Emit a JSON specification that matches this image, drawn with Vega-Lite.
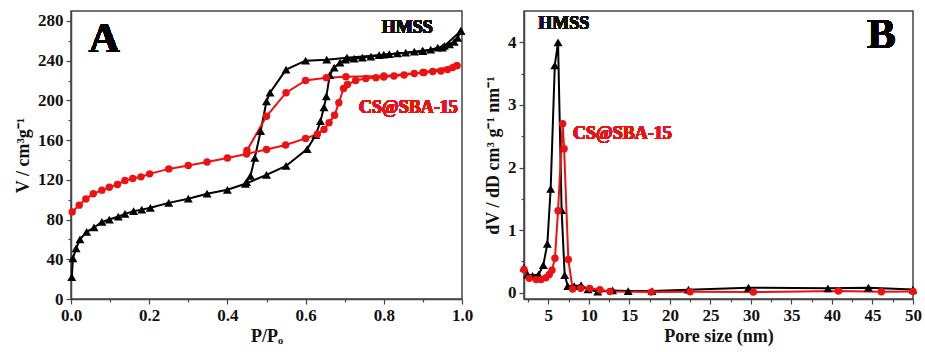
{
  "$schema": "https://vega.github.io/schema/vega-lite/v6.json",
  "background": "white",
  "padding": {"left": 13, "top": 10, "right": 5, "bottom": 5},
  "bounds": "flush",
  "spacing": 62,
  "config": {
    "font": "Liberation Serif",
    "view": {"stroke": "#444", "strokeWidth": 1.5},
    "axis": {
      "labelFont": "Liberation Serif", "labelFontWeight": "bold", "labelFontSize": 17, "labelColor": "#111",
      "titleFont": "Liberation Serif", "titleFontWeight": "bold", "titleFontSize": 18, "titleColor": "#111",
      "domainColor": "#444", "domainWidth": 1.5, "tickColor": "#444", "tickWidth": 1.2, "grid": false,
      "labelOverlap": false, "labelFlush": false
    },
    "text": {"font": "Liberation Serif", "fontWeight": "bold"}
  },
  "datasets": {
    "iso": [
      {"sample": "HMSS", "branch": "ads", "p": 0.002, "v": 22},
      {"sample": "HMSS", "branch": "ads", "p": 0.005, "v": 41},
      {"sample": "HMSS", "branch": "ads", "p": 0.013, "v": 51},
      {"sample": "HMSS", "branch": "ads", "p": 0.023, "v": 60},
      {"sample": "HMSS", "branch": "ads", "p": 0.04, "v": 67.6},
      {"sample": "HMSS", "branch": "ads", "p": 0.059, "v": 72},
      {"sample": "HMSS", "branch": "ads", "p": 0.079, "v": 77.6},
      {"sample": "HMSS", "branch": "ads", "p": 0.098, "v": 80},
      {"sample": "HMSS", "branch": "ads", "p": 0.121, "v": 83},
      {"sample": "HMSS", "branch": "ads", "p": 0.138, "v": 85.7},
      {"sample": "HMSS", "branch": "ads", "p": 0.16, "v": 88.4},
      {"sample": "HMSS", "branch": "ads", "p": 0.181, "v": 90},
      {"sample": "HMSS", "branch": "ads", "p": 0.203, "v": 91.8},
      {"sample": "HMSS", "branch": "ads", "p": 0.25, "v": 96.8},
      {"sample": "HMSS", "branch": "ads", "p": 0.3, "v": 101},
      {"sample": "HMSS", "branch": "ads", "p": 0.348, "v": 106},
      {"sample": "HMSS", "branch": "ads", "p": 0.4, "v": 110},
      {"sample": "HMSS", "branch": "ads", "p": 0.446, "v": 116},
      {"sample": "HMSS", "branch": "ads", "p": 0.5, "v": 125},
      {"sample": "HMSS", "branch": "ads", "p": 0.55, "v": 134},
      {"sample": "HMSS", "branch": "ads", "p": 0.604, "v": 151},
      {"sample": "HMSS", "branch": "ads", "p": 0.626, "v": 165},
      {"sample": "HMSS", "branch": "ads", "p": 0.638, "v": 179},
      {"sample": "HMSS", "branch": "ads", "p": 0.647, "v": 193},
      {"sample": "HMSS", "branch": "ads", "p": 0.653, "v": 204},
      {"sample": "HMSS", "branch": "ads", "p": 0.662, "v": 225.5},
      {"sample": "HMSS", "branch": "ads", "p": 0.673, "v": 233},
      {"sample": "HMSS", "branch": "ads", "p": 0.688, "v": 238},
      {"sample": "HMSS", "branch": "ads", "p": 0.702, "v": 241},
      {"sample": "HMSS", "branch": "ads", "p": 0.724, "v": 242},
      {"sample": "HMSS", "branch": "ads", "p": 0.745, "v": 243},
      {"sample": "HMSS", "branch": "ads", "p": 0.767, "v": 244},
      {"sample": "HMSS", "branch": "ads", "p": 0.788, "v": 245.5},
      {"sample": "HMSS", "branch": "ads", "p": 0.814, "v": 246.5},
      {"sample": "HMSS", "branch": "ads", "p": 0.835, "v": 247.4},
      {"sample": "HMSS", "branch": "ads", "p": 0.856, "v": 248},
      {"sample": "HMSS", "branch": "ads", "p": 0.878, "v": 249},
      {"sample": "HMSS", "branch": "ads", "p": 0.899, "v": 250},
      {"sample": "HMSS", "branch": "ads", "p": 0.92, "v": 251},
      {"sample": "HMSS", "branch": "ads", "p": 0.938, "v": 253},
      {"sample": "HMSS", "branch": "ads", "p": 0.955, "v": 255},
      {"sample": "HMSS", "branch": "ads", "p": 0.968, "v": 256.5},
      {"sample": "HMSS", "branch": "ads", "p": 0.98, "v": 259},
      {"sample": "HMSS", "branch": "ads", "p": 0.989, "v": 263},
      {"sample": "HMSS", "branch": "ads", "p": 0.997, "v": 270},
      {"sample": "HMSS", "branch": "des", "p": 0.997, "v": 270},
      {"sample": "HMSS", "branch": "des", "p": 0.95, "v": 253},
      {"sample": "HMSS", "branch": "des", "p": 0.9, "v": 249.5},
      {"sample": "HMSS", "branch": "des", "p": 0.8, "v": 246},
      {"sample": "HMSS", "branch": "des", "p": 0.706, "v": 243},
      {"sample": "HMSS", "branch": "des", "p": 0.654, "v": 241},
      {"sample": "HMSS", "branch": "des", "p": 0.6, "v": 240},
      {"sample": "HMSS", "branch": "des", "p": 0.55, "v": 231},
      {"sample": "HMSS", "branch": "des", "p": 0.509, "v": 207.7},
      {"sample": "HMSS", "branch": "des", "p": 0.5, "v": 199},
      {"sample": "HMSS", "branch": "des", "p": 0.485, "v": 169},
      {"sample": "HMSS", "branch": "des", "p": 0.47, "v": 142},
      {"sample": "HMSS", "branch": "des", "p": 0.459, "v": 124},
      {"sample": "HMSS", "branch": "des", "p": 0.449, "v": 117.6},
      {"sample": "CS@SBA-15", "branch": "ads", "p": 0.003, "v": 87.7},
      {"sample": "CS@SBA-15", "branch": "ads", "p": 0.021, "v": 94.5},
      {"sample": "CS@SBA-15", "branch": "ads", "p": 0.038, "v": 100.8},
      {"sample": "CS@SBA-15", "branch": "ads", "p": 0.057, "v": 105.9},
      {"sample": "CS@SBA-15", "branch": "ads", "p": 0.079, "v": 109.6},
      {"sample": "CS@SBA-15", "branch": "ads", "p": 0.098, "v": 112.6},
      {"sample": "CS@SBA-15", "branch": "ads", "p": 0.119, "v": 115.3},
      {"sample": "CS@SBA-15", "branch": "ads", "p": 0.138, "v": 119.3},
      {"sample": "CS@SBA-15", "branch": "ads", "p": 0.158, "v": 121.3},
      {"sample": "CS@SBA-15", "branch": "ads", "p": 0.179, "v": 123},
      {"sample": "CS@SBA-15", "branch": "ads", "p": 0.201, "v": 126},
      {"sample": "CS@SBA-15", "branch": "ads", "p": 0.25, "v": 131},
      {"sample": "CS@SBA-15", "branch": "ads", "p": 0.3, "v": 134.5},
      {"sample": "CS@SBA-15", "branch": "ads", "p": 0.348, "v": 138},
      {"sample": "CS@SBA-15", "branch": "ads", "p": 0.4, "v": 142},
      {"sample": "CS@SBA-15", "branch": "ads", "p": 0.449, "v": 146},
      {"sample": "CS@SBA-15", "branch": "ads", "p": 0.5, "v": 150.6},
      {"sample": "CS@SBA-15", "branch": "ads", "p": 0.549, "v": 155},
      {"sample": "CS@SBA-15", "branch": "ads", "p": 0.6, "v": 161.7},
      {"sample": "CS@SBA-15", "branch": "ads", "p": 0.63, "v": 166},
      {"sample": "CS@SBA-15", "branch": "ads", "p": 0.647, "v": 170.8},
      {"sample": "CS@SBA-15", "branch": "ads", "p": 0.66, "v": 177.5},
      {"sample": "CS@SBA-15", "branch": "ads", "p": 0.674, "v": 185},
      {"sample": "CS@SBA-15", "branch": "ads", "p": 0.685, "v": 197.6},
      {"sample": "CS@SBA-15", "branch": "ads", "p": 0.697, "v": 212},
      {"sample": "CS@SBA-15", "branch": "ads", "p": 0.707, "v": 216},
      {"sample": "CS@SBA-15", "branch": "ads", "p": 0.728, "v": 220},
      {"sample": "CS@SBA-15", "branch": "ads", "p": 0.754, "v": 222},
      {"sample": "CS@SBA-15", "branch": "ads", "p": 0.78, "v": 222.9},
      {"sample": "CS@SBA-15", "branch": "ads", "p": 0.8, "v": 223.5},
      {"sample": "CS@SBA-15", "branch": "ads", "p": 0.826, "v": 224.5},
      {"sample": "CS@SBA-15", "branch": "ads", "p": 0.852, "v": 225.5},
      {"sample": "CS@SBA-15", "branch": "ads", "p": 0.878, "v": 227},
      {"sample": "CS@SBA-15", "branch": "ads", "p": 0.903, "v": 228},
      {"sample": "CS@SBA-15", "branch": "ads", "p": 0.925, "v": 229},
      {"sample": "CS@SBA-15", "branch": "ads", "p": 0.946, "v": 229.6},
      {"sample": "CS@SBA-15", "branch": "ads", "p": 0.963, "v": 231},
      {"sample": "CS@SBA-15", "branch": "ads", "p": 0.976, "v": 233},
      {"sample": "CS@SBA-15", "branch": "ads", "p": 0.987, "v": 235},
      {"sample": "CS@SBA-15", "branch": "des", "p": 0.987, "v": 235},
      {"sample": "CS@SBA-15", "branch": "des", "p": 0.9, "v": 228},
      {"sample": "CS@SBA-15", "branch": "des", "p": 0.8, "v": 224.5},
      {"sample": "CS@SBA-15", "branch": "des", "p": 0.703, "v": 223.9},
      {"sample": "CS@SBA-15", "branch": "des", "p": 0.653, "v": 222.9},
      {"sample": "CS@SBA-15", "branch": "des", "p": 0.6, "v": 220},
      {"sample": "CS@SBA-15", "branch": "des", "p": 0.55, "v": 207.7},
      {"sample": "CS@SBA-15", "branch": "des", "p": 0.5, "v": 184},
      {"sample": "CS@SBA-15", "branch": "des", "p": 0.45, "v": 149.6}
    ],
    "psd": [
      {"sample": "HMSS", "d": 2.0, "f": 0.40},
      {"sample": "HMSS", "d": 2.44, "f": 0.29},
      {"sample": "HMSS", "d": 3.06, "f": 0.27},
      {"sample": "HMSS", "d": 3.8, "f": 0.29},
      {"sample": "HMSS", "d": 4.38, "f": 0.44},
      {"sample": "HMSS", "d": 4.88, "f": 0.78},
      {"sample": "HMSS", "d": 5.29, "f": 1.66},
      {"sample": "HMSS", "d": 5.8, "f": 3.63},
      {"sample": "HMSS", "d": 6.2, "f": 4.0},
      {"sample": "HMSS", "d": 6.64, "f": 1.32},
      {"sample": "HMSS", "d": 7.02, "f": 0.28},
      {"sample": "HMSS", "d": 7.4, "f": 0.107},
      {"sample": "HMSS", "d": 8.2, "f": 0.107},
      {"sample": "HMSS", "d": 9.05, "f": 0.12},
      {"sample": "HMSS", "d": 9.9, "f": 0.053},
      {"sample": "HMSS", "d": 11.1, "f": 0.016},
      {"sample": "HMSS", "d": 12.93, "f": 0.037},
      {"sample": "HMSS", "d": 14.86, "f": 0.027},
      {"sample": "HMSS", "d": 17.8, "f": 0.027},
      {"sample": "HMSS", "d": 22.3, "f": 0.048},
      {"sample": "HMSS", "d": 29.7, "f": 0.08},
      {"sample": "HMSS", "d": 39.5, "f": 0.07},
      {"sample": "HMSS", "d": 44.5, "f": 0.08},
      {"sample": "HMSS", "d": 50, "f": 0.05},
      {"sample": "CS@SBA-15", "d": 2.0, "f": 0.37},
      {"sample": "CS@SBA-15", "d": 2.65, "f": 0.23},
      {"sample": "CS@SBA-15", "d": 3.5, "f": 0.21},
      {"sample": "CS@SBA-15", "d": 4.1, "f": 0.21},
      {"sample": "CS@SBA-15", "d": 4.7, "f": 0.24},
      {"sample": "CS@SBA-15", "d": 5.12, "f": 0.29},
      {"sample": "CS@SBA-15", "d": 5.45, "f": 0.36},
      {"sample": "CS@SBA-15", "d": 5.82, "f": 0.55},
      {"sample": "CS@SBA-15", "d": 6.2, "f": 1.31},
      {"sample": "CS@SBA-15", "d": 6.77, "f": 2.70},
      {"sample": "CS@SBA-15", "d": 6.95, "f": 2.30},
      {"sample": "CS@SBA-15", "d": 7.47, "f": 0.53},
      {"sample": "CS@SBA-15", "d": 8.0, "f": 0.06},
      {"sample": "CS@SBA-15", "d": 9.0, "f": 0.07},
      {"sample": "CS@SBA-15", "d": 10.1, "f": 0.07},
      {"sample": "CS@SBA-15", "d": 11.37, "f": 0.048},
      {"sample": "CS@SBA-15", "d": 12.6, "f": 0.02},
      {"sample": "CS@SBA-15", "d": 17.7, "f": 0.01},
      {"sample": "CS@SBA-15", "d": 22.5, "f": 0.016},
      {"sample": "CS@SBA-15", "d": 30.3, "f": 0.01},
      {"sample": "CS@SBA-15", "d": 40.8, "f": 0.027},
      {"sample": "CS@SBA-15", "d": 46.1, "f": 0.016},
      {"sample": "CS@SBA-15", "d": 50, "f": 0.02}
    ]
  },
  "hconcat": [
    {
      "width": 391,
      "height": 288,
      "data": {"name": "iso"},
      "encoding": {
        "x": {"field": "p", "type": "quantitative", "title": "P/Pₒ",
              "scale": {"domain": [0, 1], "nice": false, "zero": false},
              "axis": {"values": [0, 0.1, 0.2, 0.3, 0.4, 0.5, 0.6, 0.7, 0.8, 0.9, 1.0],
                       "labelExpr": "round(datum.value*10) % 2 === 0 ? format(datum.value, '.1f') : ''",
                       "tickSize": {"condition": {"test": "round(datum.value*10) % 2 === 0", "value": 5}, "value": 3},
                       "labelPadding": 3, "titlePadding": 4}},
        "y": {"field": "v", "type": "quantitative", "title": "V / cm³g⁻¹",
              "scale": {"domain": [0, 290], "nice": false, "zero": false},
              "axis": {"values": [0, 20, 40, 60, 80, 100, 120, 140, 160, 180, 200, 220, 240, 260, 280],
                       "labelExpr": "datum.value % 40 === 0 ? datum.label : ''",
                       "tickSize": {"condition": {"test": "datum.value % 40 === 0", "value": 5}, "value": 3},
                       "labelPadding": 3, "titlePadding": 5}},
        "color": {"field": "sample", "type": "nominal", "legend": null,
                  "scale": {"domain": ["HMSS", "CS@SBA-15"], "range": ["#000000", "#ee1111"]}}
      },
      "layer": [
        {"mark": {"type": "line", "strokeWidth": 2}, "encoding": {"detail": {"field": "branch"}}},
        {"mark": {"type": "point", "filled": true, "opacity": 1},
         "encoding": {"shape": {"field": "sample", "type": "nominal", "legend": null,
                                "scale": {"domain": ["HMSS", "CS@SBA-15"], "range": ["triangle-up", "circle"]}},
                      "size": {"field": "sample", "type": "nominal", "legend": null,
                               "scale": {"domain": ["HMSS", "CS@SBA-15"], "range": [80, 55]}}}},
        {"mark": {"type": "text", "text": "HMSS", "fontSize": 18},
         "encoding": {"x": {"datum": 0.86}, "y": {"datum": 273}, "color": {"value": "#111"}}},
        {"mark": {"type": "text", "text": "CS@SBA-15", "fontSize": 18},
         "encoding": {"x": {"datum": 0.863}, "y": {"datum": 192}, "color": {"value": "#ee1111"}}},
        {"mark": {"type": "text", "text": "A", "fontSize": 43},
         "encoding": {"x": {"datum": 0.085}, "y": {"datum": 262}, "color": {"value": "#000"}}}
      ]
    },
    {
      "width": 389,
      "height": 288,
      "data": {"name": "psd"},
      "encoding": {
        "x": {"field": "d", "type": "quantitative", "title": "Pore size (nm)",
              "scale": {"domain": [2, 50], "nice": false, "zero": false},
              "axis": {"values": [2.5, 5, 7.5, 10, 12.5, 15, 17.5, 20, 22.5, 25, 27.5, 30, 32.5, 35, 37.5, 40, 42.5, 45, 47.5, 50],
                       "labelExpr": "datum.value % 5 === 0 ? datum.label : ''",
                       "tickSize": {"condition": {"test": "datum.value % 5 === 0", "value": 5}, "value": 3},
                       "labelPadding": 3, "titlePadding": 4}},
        "y": {"field": "f", "type": "quantitative", "title": "dV / dD cm³ g⁻¹ nm⁻¹",
              "scale": {"domain": [-0.1, 4.5], "nice": false, "zero": false},
              "axis": {"values": [0, 0.5, 1, 1.5, 2, 2.5, 3, 3.5, 4],
                       "labelExpr": "datum.value % 1 === 0 ? format(datum.value, 'd') : ''",
                       "tickSize": {"condition": {"test": "datum.value % 1 === 0", "value": 5}, "value": 3},
                       "labelPadding": 3, "titlePadding": 5}},
        "color": {"field": "sample", "type": "nominal", "legend": null,
                  "scale": {"domain": ["HMSS", "CS@SBA-15"], "range": ["#000000", "#ee1111"]}}
      },
      "layer": [
        {"mark": {"type": "line", "strokeWidth": 2}, "encoding": {}},
        {"mark": {"type": "point", "filled": true, "opacity": 1},
         "encoding": {"shape": {"field": "sample", "type": "nominal", "legend": null,
                                "scale": {"domain": ["HMSS", "CS@SBA-15"], "range": ["triangle-up", "circle"]}},
                      "size": {"field": "sample", "type": "nominal", "legend": null,
                               "scale": {"domain": ["HMSS", "CS@SBA-15"], "range": [80, 55]}}}},
        {"mark": {"type": "text", "text": "HMSS", "fontSize": 18},
         "encoding": {"x": {"datum": 6.9}, "y": {"datum": 4.3}, "color": {"value": "#111"}}},
        {"mark": {"type": "text", "text": "CS@SBA-15", "fontSize": 18},
         "encoding": {"x": {"datum": 14.15}, "y": {"datum": 2.54}, "color": {"value": "#ee1111"}}},
        {"mark": {"type": "text", "text": "B", "fontSize": 43},
         "encoding": {"x": {"datum": 46.1}, "y": {"datum": 4.12}, "color": {"value": "#000"}}}
      ]
    }
  ]
}
